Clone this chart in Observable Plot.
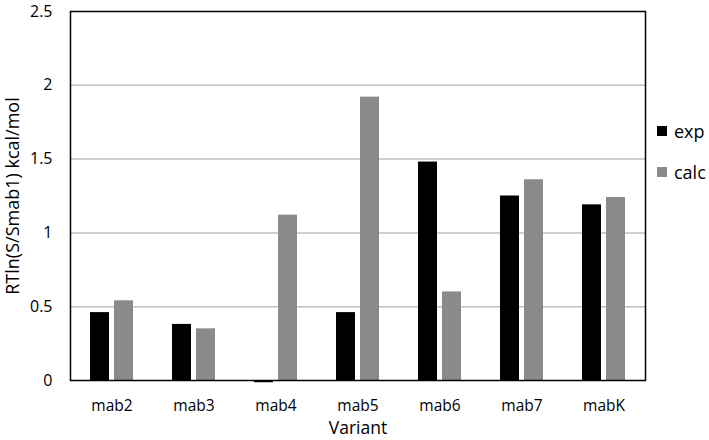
<!DOCTYPE html>
<html>
<head>
<meta charset="utf-8">
<script src="https://cdn.jsdelivr.net/npm/d3@7"></script>
<script src="https://cdn.jsdelivr.net/npm/@observablehq/plot@0.6"></script>
<style>
  html, body { margin: 0; padding: 0; background: #fff; }
  #wrap { position: relative; width: 709px; height: 440px; font-family: "Open Sans", sans-serif; }
  .legend { position: absolute; left: 657px; font-size: 18px; color: #000; display: flex; align-items: center; }
  .legend span.sw { display: inline-block; width: 10px; height: 10px; margin-right: 7px; }
</style>
</head>
<body>
<div id="wrap"></div>
<script>
const variants = ["mab2", "mab3", "mab4", "mab5", "mab6", "mab7", "mabK"];
const expValues = [0.46, 0.38, -0.015, 0.46, 1.48, 1.25, 1.19];
const calcValues = [0.54, 0.35, 1.12, 1.92, 0.60, 1.36, 1.24];
const yTicks = [0, 0.5, 1, 1.5, 2, 2.5];
const seriesNames = ["exp", "calc"];
const seriesColors = ["#000000", "#8a8a8a"];
const yLabel = "RTln(S/Smab1) kcal/mol";
const xLabel = "Variant";

const expRows = variants.map((v, i) => ({variant: v, value: expValues[i]}));
const calcRows = variants.map((v, i) => ({variant: v, value: calcValues[i]}));

const chart = Plot.plot({
  width: 709,
  height: 440,
  marginLeft: 70,
  marginRight: 64,
  marginTop: 11,
  marginBottom: 60,
  style: {fontFamily: "Open Sans, sans-serif", fontSize: "15.5px", color: "#000", background: "#fff", overflow: "visible"},
  x: {domain: variants, paddingInner: 0.476, paddingOuter: 0.238, tickSize: 0, tickPadding: 19, label: null},
  y: {domain: [0, 2.5], ticks: yTicks, tickSize: 0, tickPadding: 18, tickFormat: d => String(d), label: null},
  marks: [
    Plot.ruleY(yTicks.slice(1, -1), {stroke: "#bfbfbf", strokeWidth: 1.5}),
    Plot.barY(expRows, {x: "variant", y: "value", fill: seriesColors[0], insetRight: 24}),
    Plot.barY(calcRows, {x: "variant", y: "value", fill: seriesColors[1], insetLeft: 24}),
    Plot.frame({stroke: "#000", strokeWidth: 1.5}),
    Plot.text([xLabel], {frameAnchor: "bottom", textAnchor: "middle", dy: 53, fontSize: 17.5, fill: "#000"}),
    Plot.text([yLabel], {frameAnchor: "left", textAnchor: "middle", rotate: -90, dx: -57, fontSize: 18, fill: "#000"})
  ]
});
chart.querySelectorAll('[aria-label="y-axis tick label"] text, [aria-label="y-axis"] text').forEach(t => t.style.fontSize = "16px");
const wrap = document.getElementById("wrap");
wrap.appendChild(chart);

const legendTops = [119, 160];
seriesNames.forEach((name, i) => {
  const d = document.createElement("div");
  d.className = "legend";
  d.style.top = legendTops[i] + "px";
  d.innerHTML = `<span class="sw" style="background:${seriesColors[i]}"></span>${name}`;
  wrap.appendChild(d);
});
</script>
</body>
</html>
